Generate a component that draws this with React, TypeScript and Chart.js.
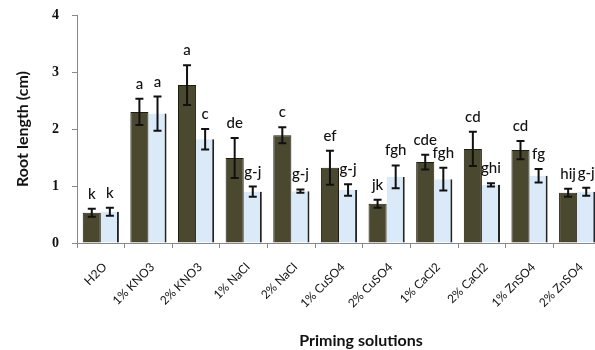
import React, { useEffect, useRef } from "react";
import { Chart, registerables } from "chart.js";

Chart.register(...registerables);

const categories = ["H2O", "1% KNO3", "2% KNO3", "1% NaCl", "2% NaCl", "1% CuSO4", "2% CuSO4", "1% CaCl2", "2% CaCl2", "1% ZnSO4", "2% ZnSO4"];
const darkValues = [0.53, 2.3, 2.77, 1.49, 1.89, 1.32, 0.69, 1.42, 1.65, 1.63, 0.88];
const lightValues = [0.55, 2.27, 1.82, 0.9, 0.91, 0.93, 1.16, 1.12, 1.02, 1.18, 0.9];
const darkErrors = [0.07, 0.23, 0.35, 0.35, 0.14, 0.3, 0.07, 0.13, 0.3, 0.16, 0.07];
const lightErrors = [0.07, 0.3, 0.18, 0.09, 0.03, 0.1, 0.2, 0.2, 0.03, 0.12, 0.07];
const darkLetters = ["k", "a", "a", "de", "c", "ef", "jk", "cde", "cd", "cd", "hij"];
const lightLetters = ["k", "a", "c", "g-j", "g-j", "g-j", "fgh", "fgh", "ghi", "fg", "g-j"];
const yTicks = [0, 1, 2, 3, 4];
const xTitle = "Priming solutions";

const errorPlugin = {
  id: "errorBars",
  afterDatasetsDraw(chart: any) {
    const ctx = chart.ctx;
    const y = chart.scales.y;
    const errs = [darkErrors, lightErrors];
    const letters = [darkLetters, lightLetters];
    const vals = [darkValues, lightValues];
    ctx.save();
    for (let d = 0; d < 2; d++) {
      const meta = chart.getDatasetMeta(d);
      meta.data.forEach((bar: any, i: number) => {
        const v = vals[d][i];
        const e = errs[d][i];
        const top = y.getPixelForValue(v + e);
        const bot = y.getPixelForValue(v - e);
        const x = bar.x;
        ctx.strokeStyle = "#111";
        ctx.lineWidth = 2;
        ctx.beginPath();
        ctx.moveTo(x, top);
        ctx.lineTo(x, bot);
        ctx.moveTo(x - 4, top);
        ctx.lineTo(x + 4, top);
        ctx.moveTo(x - 4, bot);
        ctx.lineTo(x + 4, bot);
        ctx.stroke();
        ctx.fillStyle = "#111";
        ctx.font = "500 15px Lato";
        ctx.textAlign = "center";
        ctx.textBaseline = "alphabetic";
        ctx.fillText(letters[d][i], x, top - 10);
      });
    }
    // x-axis title
    ctx.fillStyle = "#111";
    ctx.font = "bold 16px Lato";
    ctx.textAlign = "center";
    ctx.textBaseline = "middle";
    ctx.fillText(xTitle, 361, 341);
    ctx.restore();
  },
};

export default function App() {
  const ref = useRef<HTMLCanvasElement>(null);
  useEffect(() => {
    const chart = new Chart(ref.current!, {
      type: "bar",
      data: {
        labels: categories,
        datasets: [
          {
            data: darkValues,
            backgroundColor: "#4b4830",
            borderColor: "#1e1c10",
            borderWidth: 1,
            categoryPercentage: 0.76,
            barPercentage: 1,
          },
          {
            data: lightValues,
            backgroundColor: "#dbeaf8",
            borderColor: "#222",
            borderWidth: { right: 2, left: 0, top: 0, bottom: 0 },
            categoryPercentage: 0.76,
            barPercentage: 1,
          },
        ],
      },
      options: {
        animation: false,
        responsive: false,
        maintainAspectRatio: false,
        layout: { padding: { left: 0, right: 9, top: 15, bottom: 4 } },
        plugins: { legend: { display: false }, tooltip: { enabled: false } },
        scales: {
          x: {
            grid: { drawOnChartArea: false, offset: true, color: "#888", tickLength: 5 },
            border: { color: "#888" },
            ticks: {
              minRotation: 45,
              maxRotation: 45,
              color: "#111",
              font: { family: "Lato", size: 12 },
              padding: 12,
              labelOffset: 4,
            },
            title: { display: false },
            afterFit(scale: any) {
              scale.height = 103;
            },
          },
          y: {
            min: 0,
            max: 4,
            afterBuildTicks(scale: any) {
              scale.ticks = yTicks.map((v) => ({ value: v }));
            },
            grid: { drawOnChartArea: false, color: "#888", tickLength: 5 },
            border: { color: "#888" },
            ticks: {
              color: "#111",
              font: { family: "Liberation Serif", size: 14, weight: "bold" },
              padding: 13,
            },
            title: {
              display: true,
              text: "Root length (cm)",
              color: "#111",
              font: { family: "Lato", size: 16, weight: "bold" },
              padding: { top: 13, bottom: 0 },
            },
            afterFit(scale: any) {
              scale.width = 77;
              scale.paddingTop = 0;
              scale.paddingBottom = 0;
            },
          },
        },
      },
      plugins: [errorPlugin],
    } as any);
    return () => chart.destroy();
  }, []);
  return (
    <div style={{ position: "fixed", left: 0, top: 0, width: 595, height: 350, overflow: "hidden", background: "#fff" }}>
      <canvas ref={ref} width={610} height={350} style={{ width: 610, height: 350, display: "block" }} />
    </div>
  );
}
